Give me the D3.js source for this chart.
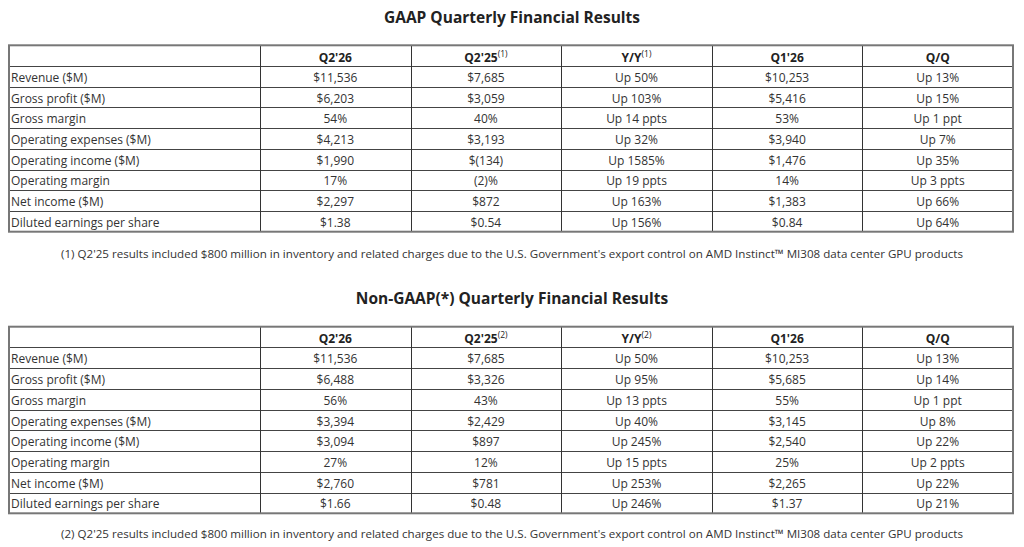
<!DOCTYPE html>
<html>
<head>
<meta charset="utf-8">
<script src="https://cdn.jsdelivr.net/npm/d3@7"></script>
<style>
  html, body { margin: 0; padding: 0; background: #fff; }
  svg { display: block; font-family: "Open Sans", sans-serif; }
</style>
</head>
<body>
<div id="chart-container"></div>
<script>
// column headers and row labels
const columns = ["", "Q2'26", "Q2'25", "Y/Y", "Q1'26", "Q/Q"];
const rowLabels = [
  "Revenue ($M)", "Gross profit ($M)", "Gross margin", "Operating expenses ($M)",
  "Operating income ($M)", "Operating margin", "Net income ($M)", "Diluted earnings per share"
];

// GAAP table values
const gaapQ226 = ["$11,536", "$6,203", "54%", "$4,213", "$1,990", "17%", "$2,297", "$1.38"];
const gaapQ225 = ["$7,685", "$3,059", "40%", "$3,193", "$(134)", "(2)%", "$872", "$0.54"];
const gaapYY   = ["Up 50%", "Up 103%", "Up 14 ppts", "Up 32%", "Up 1585%", "Up 19 ppts", "Up 163%", "Up 156%"];
const gaapQ126 = ["$10,253", "$5,416", "53%", "$3,940", "$1,476", "14%", "$1,383", "$0.84"];
const gaapQQ   = ["Up 13%", "Up 15%", "Up 1 ppt", "Up 7%", "Up 35%", "Up 3 ppts", "Up 66%", "Up 64%"];

// Non-GAAP table values
const ngQ226 = ["$11,536", "$6,488", "56%", "$3,394", "$3,094", "27%", "$2,760", "$1.66"];
const ngQ225 = ["$7,685", "$3,326", "43%", "$2,429", "$897", "12%", "$781", "$0.48"];
const ngYY   = ["Up 50%", "Up 95%", "Up 13 ppts", "Up 40%", "Up 245%", "Up 15 ppts", "Up 253%", "Up 246%"];
const ngQ126 = ["$10,253", "$5,685", "55%", "$3,145", "$2,540", "25%", "$2,265", "$1.37"];
const ngQQ   = ["Up 13%", "Up 14%", "Up 1 ppt", "Up 8%", "Up 22%", "Up 2 ppts", "Up 22%", "Up 21%"];

const note1 = "(1) Q2'25 results included $800 million in inventory and related charges due to the U.S. Government's export control on AMD Instinct\u2122 MI308 data center GPU products";
const note2 = "(2) Q2'25 results included $800 million in inventory and related charges due to the U.S. Government's export control on AMD Instinct\u2122 MI308 data center GPU products";

const width = 1024, height = 547;
const colWeights = [5, 3, 3, 3, 3, 3];

const svg = d3.select("#chart-container")
  .append("svg")
  .attr("width", width)
  .attr("height", height)
  .attr("viewBox", `0 0 ${width} ${height}`);

// column edges via linear scale over cumulative weights
const edges = [0, ...d3.cumsum(colWeights)];
const x = d3.scaleLinear().domain([0, d3.sum(colWeights)]).range([9, 1013]);

function drawTable(cfg) {
  const g = svg.append("g");

  g.append("text")
    .attr("x", width / 2)
    .attr("y", cfg.titleY)
    .attr("text-anchor", "middle")
    .attr("dominant-baseline", "central")
    .style("font-size", "15.5px")
    .style("font-weight", "bold")
    .style("fill", "#222")
    .text(cfg.title);

  const rowKeys = ["header", ...rowLabels];
  const y = d3.scaleBand().domain(rowKeys).range([cfg.top, cfg.bottom]);

  const valueCols = [rowLabels, cfg.q226, cfg.q225, cfg.yy, cfg.q126, cfg.qq];

  // inner horizontal lines
  g.selectAll("line.h")
    .data(rowKeys.slice(1))
    .join("line")
      .attr("x1", x(0)).attr("x2", x(edges[edges.length - 1]))
      .attr("y1", d => Math.round(y(d)) + 0.5)
      .attr("y2", d => Math.round(y(d)) + 0.5)
      .attr("stroke", "#444").attr("stroke-width", 1);

  // inner vertical lines
  g.selectAll("line.v")
    .data(edges.slice(1, -1))
    .join("line")
      .attr("x1", d => Math.round(x(d)) + 0.5)
      .attr("x2", d => Math.round(x(d)) + 0.5)
      .attr("y1", cfg.top).attr("y2", cfg.bottom)
      .attr("stroke", "#333").attr("stroke-width", 1);

  // outer border
  g.append("rect")
    .attr("x", x(0))
    .attr("y", cfg.top)
    .attr("width", x(edges[edges.length - 1]) - x(0))
    .attr("height", cfg.bottom - cfg.top)
    .attr("fill", "none")
    .attr("stroke", "#777")
    .attr("stroke-width", 2);

  // header cells
  columns.forEach((c, i) => {
    if (!c) return;
    const t = g.append("text")
      .attr("x", (x(edges[i]) + x(edges[i + 1])) / 2)
      .attr("y", y("header") + y.bandwidth() / 2 + 1)
      .attr("text-anchor", "middle")
      .attr("dominant-baseline", "central")
      .style("font-size", "12px")
      .style("font-weight", "bold")
      .style("fill", "#222");
    t.append("tspan").text(c);
    if (i === 2 || i === 3) {
      t.append("tspan")
        .attr("dy", "-0.45em")
        .style("font-size", "8.5px")
        .style("font-weight", "normal")
        .text(cfg.sup);
    }
  });

  // body cells
  valueCols.forEach((vals, ci) => {
    g.selectAll(null)
      .data(vals.map((v, ri) => ({v, r: rowLabels[ri]})))
      .join("text")
        .attr("x", ci === 0 ? x(0) + 2 : (x(edges[ci]) + x(edges[ci + 1])) / 2)
        .attr("y", d => y(d.r) + y.bandwidth() / 2 + 1)
        .attr("text-anchor", ci === 0 ? "start" : "middle")
        .attr("dominant-baseline", "central")
        .style("font-size", "12px")
        .style("fill", "#333")
        .text(d => d.v);
  });

  g.append("text")
    .attr("x", width / 2)
    .attr("y", cfg.noteY)
    .attr("text-anchor", "middle")
    .attr("dominant-baseline", "central")
    .style("font-size", "11.6px")
    .style("fill", "#333")
    .text(cfg.note);
}

drawTable({
  title: "GAAP Quarterly Financial Results", titleY: 17,
  top: 45.3, bottom: 231.7, sup: "(1)",
  q226: gaapQ226, q225: gaapQ225, yy: gaapYY, q126: gaapQ126, qq: gaapQQ,
  note: note1, noteY: 253
});

drawTable({
  title: "Non-GAAP(*) Quarterly Financial Results", titleY: 298,
  top: 326.7, bottom: 513.3, sup: "(2)",
  q226: ngQ226, q225: ngQ225, yy: ngYY, q126: ngQ126, qq: ngQQ,
  note: note2, noteY: 533
});
</script>
</body>
</html>
